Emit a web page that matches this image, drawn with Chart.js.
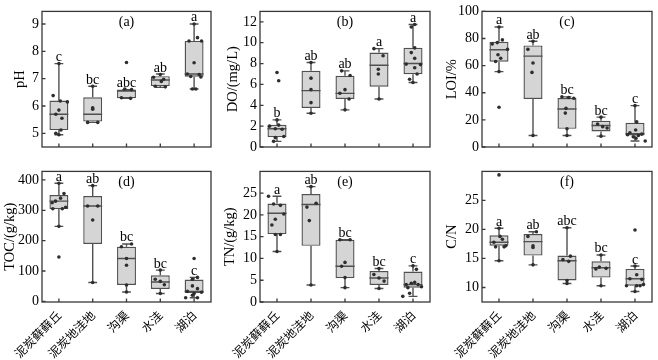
<!DOCTYPE html>
<html>
<head>
<meta charset="utf-8">
<script src="https://cdn.jsdelivr.net/npm/chart.js@4.4.1/dist/chart.umd.min.js"></script>
<style>
  html, body { margin: 0; padding: 0; background: #fff; }
  #wrap { position: relative; width: 658px; height: 360px; overflow: hidden; }
  canvas { position: absolute; }
</style>
</head>
<body>
<div id="wrap">
  <canvas id="pA" width="220" height="160" style="left:0;top:0"></canvas>
  <canvas id="pB" width="220" height="160" style="left:220px;top:0"></canvas>
  <canvas id="pC" width="218" height="160" style="left:440px;top:0"></canvas>
  <canvas id="pD" width="220" height="200" style="left:0;top:160px"></canvas>
  <canvas id="pE" width="220" height="200" style="left:220px;top:160px"></canvas>
  <canvas id="pF" width="218" height="200" style="left:440px;top:160px"></canvas>
</div>
<script>
// categories
const categories = ['泥炭藓藓丘', '泥炭地洼地', '沟渠', '水洼', '湖泊'];

// box stats per category: [whisker low, q1, median, q3, whisker high]
const phBox = [[4.95, 5.12, 5.7, 6.2, 7.55], [5.4, 5.43, 5.7, 6.32, 6.72], [6.28, 6.28, 6.55, 6.6, 6.6], [6.68, 6.73, 6.95, 7.09, 7.17], [6.62, 7.07, 7.17, 8.38, 9.0]];
const phPoints = [[7.55, 6.38, 6.18, 6.15, 5.85, 5.7, 5.55, 5.12, 5.0, 4.95], [6.72, 5.93, 5.88, 5.4, 5.4], [7.59, 6.62, 6.6, 6.3, 6.28], [7.15, 7.05, 6.98, 6.9, 6.72, 6.7], [9.0, 8.5, 8.38, 8.38, 7.58, 7.17, 7.15, 7.08, 7.06, 6.62, 6.62]];
const phJitter = [[0, -0.17, 0.04, 0.25, 0, -0.09, 0.09, 0.06, -0.09, 0], [0, 0, 0, -0.15, 0.15], [0, -0.05, 0.15, -0.15, 0.12], [0, -0.2, 0.1, 0.03, -0.15, 0.15], [0, 0.1, -0.15, 0.22, 0, -0.2, 0.15, -0.1, 0.2, -0.05, 0.05]];
const phLetters = ['c', 'bc', 'abc', 'ab', 'a'];
const phTicks = [5, 6, 7, 8, 9];

const doBox = [[0.54, 0.95, 1.75, 2.13, 2.6], [3.24, 3.75, 5.4, 7.3, 8.1], [3.56, 4.6, 5.14, 6.83, 7.3], [4.6, 5.78, 7.84, 9.05, 9.43], [6.19, 6.98, 8.0, 9.52, 11.75]];
const doPoints = [[7.14, 6.35, 2.6, 2.1, 2.0, 1.75, 1.7, 1.0, 0.9, 0.54], [8.1, 6.6, 5.5, 4.25, 3.24], [7.3, 6.85, 5.5, 5.15, 4.6, 3.56], [9.43, 8.75, 7.45, 7.0, 4.6], [11.75, 11.5, 9.5, 9.05, 8.5, 7.95, 7.9, 7.6, 7.0, 6.5, 6.19]];
const doJitter = [[0, 0.05, 0, 0.05, -0.22, -0.05, 0.15, 0.2, -0.05, -0.1], [0, 0, 0, 0, 0], [-0.1, 0.15, 0, -0.15, 0.12, 0], [-0.15, 0.12, -0.02, -0.02, 0], [0.05, -0.05, 0.05, -0.05, 0.05, -0.2, 0.22, 0.05, 0.12, -0.1, 0]];
const doLetters = ['b', 'ab', 'ab', 'a', 'a'];
const doTicks = [0, 2, 4, 6, 8, 10, 12];

const loiBox = [[55.6, 62.9, 71.7, 77.6, 88.5], [8.5, 35.4, 67, 74.9, 78], [8.5, 13.4, 28, 36.1, 37], [8.0, 11.5, 15.9, 19.3, 22], [4.4, 8.5, 9.8, 17.8, 30.5]];
const loiPoints = [[88.5, 79, 77, 76, 72, 68, 65.5, 63, 55.6, 29.3], [78, 72, 62, 55, 8.5], [37, 36.5, 36, 28.5, 25, 13.5, 8.5], [22, 17, 15, 14, 8], [30.5, 18.5, 12.5, 10.5, 9.5, 9, 8.5, 7.5, 6.5, 4.4]];
const loiJitter = [[0, 0.1, -0.05, -0.2, 0.25, -0.03, 0.05, -0.1, 0, 0], [0, -0.15, 0, -0.03, 0], [-0.15, 0.05, 0.2, -0.03, -0.05, 0, 0], [0, -0.1, 0.05, 0.18, 0], [0, 0.05, 0.02, -0.15, 0.2, -0.22, 0.1, -0.05, 0.03, 0.3]];
const loiLetters = ['a', 'ab', 'bc', 'bc', 'c'];
const loiTicks = [0, 20, 40, 60, 80, 100];

const tocBox = [[247, 304, 330, 350, 389], [62, 189, 314, 347, 381], [31, 54, 141, 180, 189], [26, 41, 64, 86, 103], [12, 28, 33, 72, 79]];
const tocPoints = [[389, 355, 340, 330, 325, 310, 305, 305, 247, 146], [381, 314, 314, 268, 62], [189, 180, 141, 119, 54, 31], [103, 73, 66, 55, 26], [141, 79, 73, 51, 42, 33, 30, 26, 20, 12, 12]];
const tocJitter = [[0, 0.15, 0.05, -0.1, -0.2, 0.2, -0.18, 0.1, 0, 0], [0, -0.15, 0.15, 0, 0], [0.15, -0.15, 0, 0, 0, 0], [0, -0.15, 0, 0.12, 0], [0, 0.1, -0.05, -0.05, 0.1, -0.2, 0.22, 0, -0.05, -0.25, 0.1]];
const tocLetters = ['a', 'ab', 'bc', 'bc', 'c'];
const tocTicks = [0, 50, 100, 150, 200, 250, 300, 350, 400];

const tnBox = [[11.6, 15.6, 20.4, 22.6, 24.3], [3.9, 12.9, 22.4, 24.8, 26.5], [3.3, 5.5, 8.2, 14.3, 14.3], [3.1, 3.9, 5.5, 7.1, 7.7], [1.3, 3.3, 4.0, 7.0, 8.3]];
const tnPoints = [[24.3, 22.5, 22.2, 20.2, 19.0, 17.7, 15.5, 15.5, 11.6], [26.5, 22.7, 21.8, 18.7, 3.9], [14.3, 14.3, 9.1, 8.2, 5.6, 3.3], [7.7, 6.3, 5.5, 4.8, 3.1], [8.3, 7.5, 4.5, 4.3, 4.0, 4.0, 3.5, 3.3, 2.0, 1.3]];
const tnJitter = [[-0.25, -0.1, 0.1, 0.2, -0.05, -0.15, -0.05, 0.1, 0], [0, 0.15, -0.12, -0.05, 0], [-0.15, 0.15, 0, -0.1, 0, 0], [0, -0.15, 0, 0.15, 0], [0, 0.1, 0.05, -0.05, -0.2, 0.15, 0.25, -0.15, -0.1, -0.3]];
const tnLetters = ['a', 'ab', 'bc', 'bc', 'c'];
const tnTicks = [0, 5, 10, 15, 20, 25];

const cnBox = [[14.6, 17.2, 17.8, 19.0, 20.2], [13.9, 15.5, 17.9, 19.2, 19.6], [10.7, 11.2, 14.6, 15.5, 20.3], [10.3, 11.7, 13.4, 14.5, 15.6], [9.3, 10.3, 11.5, 13.2, 13.7]];
const cnPoints = [[29.4, 20.2, 18.8, 18.3, 17.8, 17.2, 17.0, 17.0, 14.6], [19.6, 18.8, 17.2, 16.9, 13.9], [20.3, 15.4, 14.8, 14.5, 11.2, 10.7], [15.6, 13.5, 13.3, 13.2, 10.3], [19.9, 13.7, 12.2, 11.5, 11.4, 10.5, 10.3, 10.3, 10.3, 9.3]];
const cnJitter = [[0, 0, 0.03, 0.1, -0.15, 0.2, -0.1, 0.15, 0], [0.1, -0.15, 0, 0, 0], [0, 0.1, -0.12, 0.05, 0, 0], [0, -0.05, 0.15, -0.15, 0], [0, 0, 0.05, -0.15, 0.2, 0.25, -0.25, 0.05, 0.15, 0]];
const cnLetters = ['a', 'ab', 'abc', 'bc', 'c'];
const cnTicks = [10, 15, 20, 25];

const SERIF = "'Liberation Serif', 'Times New Roman', serif";
const INK = '#383838';

function makePanel(id, tag, title, box, points, jitter, letters, ticks, yMin, yMax, geo) {
  const extras = {
    id: 'boxExtras',
    afterDatasetDraw(chart, args) {
      if (args.index !== 0) return;
      const ctx = chart.ctx, xs = chart.scales.x, ys = chart.scales.y;
      const bars = chart.getDatasetMeta(0).data;
      ctx.save();
      ctx.strokeStyle = '#505050';
      ctx.lineWidth = 1.4;
      box.forEach((b, i) => {
        const x = xs.getPixelForValue(i + 1);
        const half = bars[i].width / 2;
        const cap = xs.getPixelForValue(i + 1.13) - x;
        const yLo = ys.getPixelForValue(b[0]), yQ1 = ys.getPixelForValue(b[1]);
        const yMed = ys.getPixelForValue(b[2]);
        const yQ3 = ys.getPixelForValue(b[3]), yHi = ys.getPixelForValue(b[4]);
        ctx.beginPath();
        ctx.moveTo(x, yQ1); ctx.lineTo(x, yLo);
        ctx.moveTo(x, yQ3); ctx.lineTo(x, yHi);
        ctx.moveTo(x - cap, yLo); ctx.lineTo(x + cap, yLo);
        ctx.moveTo(x - cap, yHi); ctx.lineTo(x + cap, yHi);
        ctx.moveTo(x - half, yMed); ctx.lineTo(x + half, yMed);
        ctx.stroke();
      });
      ctx.restore();
    },
    afterDraw(chart) {
      const ctx = chart.ctx, a = chart.chartArea;
      const xs = chart.scales.x, ys = chart.scales.y;
      ctx.save();
      ctx.strokeStyle = INK;
      ctx.lineWidth = 1.3;
      ctx.strokeRect(a.left, a.top, a.right - a.left, a.bottom - a.top);
      ctx.beginPath();
      xs.ticks.forEach(t => {
        const x = xs.getPixelForValue(t.value);
        ctx.moveTo(x, a.bottom); ctx.lineTo(x, a.bottom - 3.5);
      });
      ys.ticks.forEach(t => {
        const y = ys.getPixelForValue(t.value);
        ctx.moveTo(a.left, y); ctx.lineTo(a.left + 3.5, y);
      });
      ctx.stroke();
      ctx.fillStyle = '#000';
      ctx.font = '14px ' + SERIF;
      ctx.textAlign = 'center';
      ctx.textBaseline = 'alphabetic';
      letters.forEach((l, i) => {
        ctx.fillText(l, xs.getPixelForValue(i + 1), ys.getPixelForValue(box[i][4]) - 2.5);
      });
      ctx.textBaseline = 'middle';
      ctx.fillText(tag, (a.left + a.right) / 2, a.top + 11);
      ctx.restore();
    }
  };

  const pts = [];
  points.forEach((arr, i) => arr.forEach((v, j) => pts.push({ x: i + 1 + jitter[i][j], y: v })));

  new Chart(document.getElementById(id), {
    type: 'bar',
    data: {
      datasets: [{
        type: 'bar',
        data: box.map((b, i) => ({ x: i + 1, y: [b[1], b[3]] })),
        backgroundColor: '#d5d5d5',
        borderColor: '#505050',
        borderWidth: 1.4,
        borderSkipped: false,
        barPercentage: 0.56,
        categoryPercentage: 1,
        order: 1
      }, {
        type: 'scatter',
        data: pts,
        pointRadius: 1.8,
        pointBackgroundColor: '#2e2e2e',
        pointBorderWidth: 0,
        order: 0
      }]
    },
    options: {
      responsive: false,
      animation: false,
      layout: { padding: { left: 0, right: geo.padRight, top: geo.padTop, bottom: 0 } },
      plugins: { legend: { display: false }, tooltip: { enabled: false } },
      scales: {
        x: {
          type: 'linear', min: 0.5, max: 5.5, offset: false,
          grid: { display: false, drawTicks: false }, border: { display: false },
          afterBuildTicks: s => { s.ticks = categories.map((c, i) => ({ value: i + 1 })); },
          afterFit: s => { s.height = geo.xHeight; },
          ticks: {
            display: geo.labels, autoSkip: false, minRotation: 45, maxRotation: 45, padding: 6,
            color: '#000', font: { family: "'Noto Sans CJK SC'", size: 12 },
            callback: v => categories[v - 1]
          }
        },
        y: {
          min: yMin, max: yMax,
          grid: { display: false, drawTicks: false }, border: { display: false },
          afterBuildTicks: s => { s.ticks = ticks.map(v => ({ value: v })); },
          afterFit: s => { s.width = geo.axisWidth; },
          ticks: { padding: 3, color: '#000', font: { family: SERIF, size: 14 } },
          title: { display: true, text: title, color: '#000', font: { family: SERIF, size: 14.5 }, padding: { top: geo.titlePad, bottom: 0 } }
        }
      }
    },
    plugins: [extras]
  });
}

makePanel('pA', '(a)', 'pH', phBox, phPoints, phJitter, phLetters, phTicks, 4.5, 9.46,
  { padRight: 9, padTop: 10, xHeight: 13, axisWidth: 42, titlePad: 11, labels: false });
makePanel('pB', '(b)', 'DO/(mg/L)', doBox, doPoints, doJitter, doLetters, doTicks, 0, 13,
  { padRight: 10, padTop: 10, xHeight: 13, axisWidth: 40, titlePad: 4, labels: false });
makePanel('pC', '(c)', 'LOI/%', loiBox, loiPoints, loiJitter, loiLetters, loiTicks, 0, 100,
  { padRight: 6, padTop: 10, xHeight: 13, axisWidth: 42, titlePad: 3, labels: false });
makePanel('pD', '(d)', 'TOC/(g/kg)', tocBox, tocPoints, tocJitter, tocLetters, tocTicks, -2, 428,
  { padRight: 9, padTop: 4, xHeight: 58, axisWidth: 42, titlePad: 1, labels: true });
makePanel('pE', '(e)', 'TN/(g/kg)', tnBox, tnPoints, tnJitter, tnLetters, tnTicks, 0, 30,
  { padRight: 10, padTop: 4, xHeight: 58, axisWidth: 40, titlePad: 1, labels: true });
makePanel('pF', '(f)', 'C/N', cnBox, cnPoints, cnJitter, cnLetters, cnTicks, 7.5, 30,
  { padRight: 6, padTop: 4, xHeight: 58, axisWidth: 42, titlePad: 3, labels: true });
</script>
</body>
</html>
